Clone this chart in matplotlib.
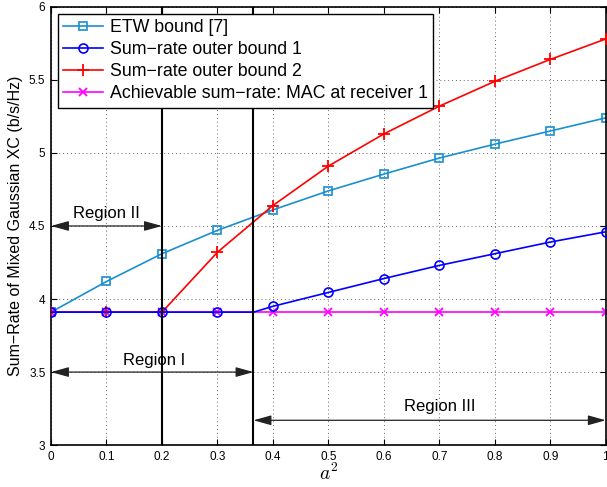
import matplotlib
matplotlib.use("Agg")
import matplotlib.pyplot as plt
import numpy as np

plt.rcParams['font.family'] = ['Liberation Sans', 'DejaVu Sans']
plt.rcParams['mathtext.fontset'] = 'cm'

x = [0.0, 0.1, 0.2, 0.3, 0.4, 0.5, 0.6, 0.7, 0.8, 0.9, 1.0]
etw = [3.91, 4.12, 4.31, 4.47, 4.61, 4.74, 4.855, 4.965, 5.06, 5.15, 5.24]
x_ob1 = [0.0, 0.1, 0.2, 0.3, 0.365, 0.4, 0.5, 0.6, 0.7, 0.8, 0.9, 1.0]
ob1 = [3.91, 3.91, 3.91, 3.91, 3.91, 3.95, 4.045, 4.14, 4.23, 4.31, 4.39, 4.46]
ob2 = [3.91, 3.91, 3.91, 4.32, 4.64, 4.91, 5.13, 5.32, 5.49, 5.64, 5.78]
mac = [3.91] * 11
x_mac = x
region_bounds = [0.2, 0.365]

fig = plt.figure(figsize=(6.07, 4.87), dpi=100)
ax = fig.add_axes([0.084, 0.086, 0.914, 0.900])

c_etw = '#1a8fd0'
lw = 1.2
ax.plot(x, etw, '-s', color=c_etw, mfc='none', ms=5.5, lw=lw, mew=1.2, label='ETW bound [7]')
ax.plot(x_ob1, ob1, '-o', color='#0000ff', mfc='none', ms=6.5, lw=lw, mew=1.2,
        markevery=[i for i in range(len(x_ob1)) if i != 4], label='Sum\u2212rate outer bound 1', zorder=4)
ax.plot(x, ob2, '-+', color='#ff0000', ms=8, lw=lw, mew=1.3, label='Sum\u2212rate outer bound 2', zorder=3)
ax.plot(x_mac, mac, '-x', color='#ff00ff', ms=6, lw=lw, mew=1.3,
        label='Achievable sum\u2212rate: MAC at receiver 1', zorder=2)

for b in region_bounds:
    ax.axvline(b, color='black', lw=1.5, zorder=5)

arrow_kw = dict(arrowstyle='<|-|>,head_length=0.9,head_width=0.25', color='#222222', lw=0.9,
                mutation_scale=12, shrinkA=0, shrinkB=0)
ax.annotate('', xy=(0.0, 4.5), xytext=(0.2, 4.5), arrowprops=arrow_kw, zorder=6)
ax.text(0.1, 4.535, 'Region II', ha='center', va='bottom', fontsize=12)
ax.annotate('', xy=(0.0, 3.5), xytext=(0.365, 3.5), arrowprops=arrow_kw, zorder=6)
ax.text(0.185, 3.53, 'Region I', ha='center', va='bottom', fontsize=12)
ax.annotate('', xy=(0.365, 3.17), xytext=(1.0, 3.17), arrowprops=arrow_kw, zorder=6)
ax.text(0.7, 3.215, 'Region III', ha='center', va='bottom', fontsize=12)

ax.set_xlim(0, 1)
ax.set_ylim(3, 6)
ax.set_xticks(np.arange(0, 1.01, 0.1))
ax.set_xticklabels(['0', '0.1', '0.2', '0.3', '0.4', '0.5', '0.6', '0.7', '0.8', '0.9', '1'])
ax.set_yticks([3, 3.5, 4, 4.5, 5, 5.5, 6])
ax.set_yticklabels(['3', '3.5', '4', '4.5', '5', '5.5', '6'])
ax.tick_params(direction='in', top=True, right=True, labelsize=8.5, length=4, pad=4)
ax.grid(True, linestyle=(0, (1, 3)), color='#666666', lw=0.7)
for s in ax.spines.values():
    s.set_linewidth(1.2)
ax.set_xlabel('$a^2$', fontsize=14, labelpad=0)
ax.set_ylabel('Sum\u2212Rate of Mixed Gaussian XC (b/s/Hz)', fontsize=11.5)

leg = ax.legend(loc='upper left', fontsize=12.8, fancybox=False, framealpha=1, edgecolor='black',
                borderaxespad=0.4, handlelength=2.2, borderpad=0.3, labelspacing=0.28, handletextpad=0.4)
leg.get_frame().set_linewidth(1.0)
leg.set_zorder(10)

fig.savefig('out.png', dpi=100)
